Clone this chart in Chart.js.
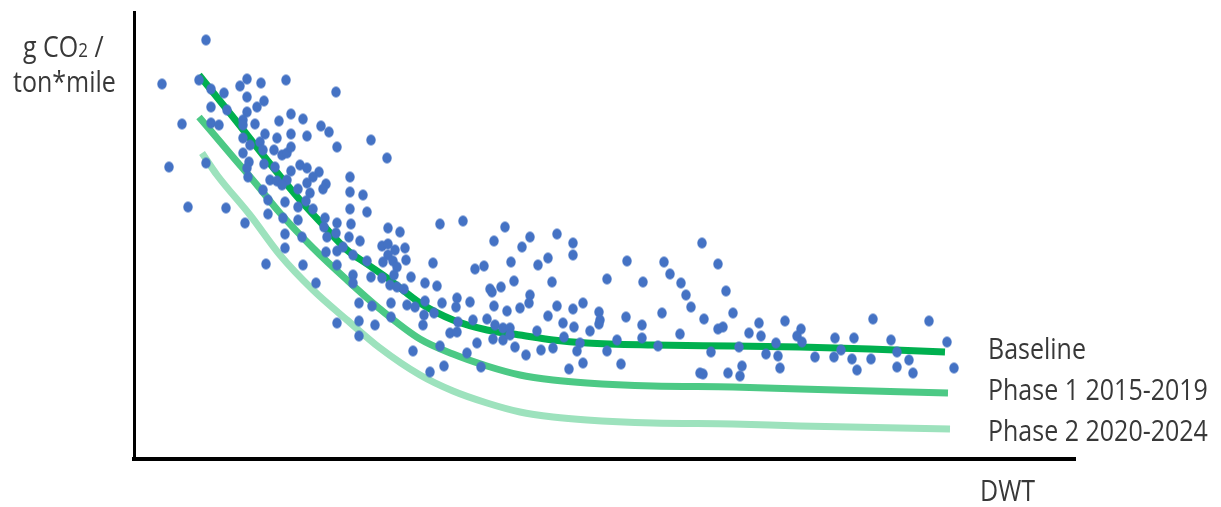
<!DOCTYPE html>
<html>
<head>
<meta charset="utf-8">
<title>g CO2 / ton*mile vs DWT</title>
<script src="https://cdn.jsdelivr.net/npm/chart.js@4.4.1/dist/chart.umd.min.js"></script>
<style>
    html, body { margin: 0; padding: 0; background: #fff; }
    #wrap { width: 1221px; height: 507px; position: relative; }
</style>
</head>
<body>
<div id="wrap"><canvas id="co2-chart"></canvas></div>
<script>
// Ship samples: [DWT, g CO2 per ton*mile] - the original has no tick values,
// so the units here are only relative
const ships = [
    [7.2,41.9],[2.8,37.5],[6.5,37.9],[7.7,37.0],[9.0,36.6],[10.6,37.3],[11.3,38.0],[12.7,37.6],[15.2,37.9],[20.2,36.7],
    [11.3,36.2],[7.7,35.2],[9.3,34.9],[12.3,35.2],[13.0,35.8],[11.3,34.7],[10.9,33.9],[10.9,33.4],[12.1,33.5],[4.8,33.5],
    [7.7,33.6],[8.5,33.4],[15.7,34.5],[16.9,34.0],[14.5,33.8],[18.7,33.3],[19.5,32.7],[17.3,32.3],[15.7,32.5],[14.3,32.1],
    [13.1,32.5],[10.9,32.1],[11.6,31.4],[12.6,31.7],[12.9,30.9],[14.0,30.9],[14.8,30.4],[15.3,30.6],[15.7,31.2],[10.9,30.6],
    [20.3,31.2],[11.5,29.7],[13.0,29.5],[14.1,29.2],[11.3,29.1],[11.4,28.2],[15.7,28.8],[16.6,29.4],[17.3,29.1],[18.5,28.7],
    [17.9,28.2],[3.5,29.2],[7.2,29.6],[13.6,27.9],[14.3,27.8],[15.3,27.9],[17.3,27.6],[19.2,27.5],
    [12.9,26.9],[14.8,27.4],[16.4,27.0],[17.6,26.6],[18.9,27.0],[5.4,25.2],[9.2,25.1],[13.4,25.9],[15.1,25.7],[16.4,25.2],
    [17.2,25.8],[17.9,25.0],[13.4,24.5],[11.1,23.6],[14.9,24.1],[16.4,23.9],[19.1,24.1],[19.0,23.2],[19.3,22.2],[20.3,23.6],
    [15.1,22.5],[16.8,22.2],[15.1,21.1],[19.2,20.7],[20.3,20.8],[20.3,19.4],[13.2,19.5],[16.9,19.4],[18.2,17.6],[20.3,13.6],
    [23.7,31.9],[25.3,30.1],[21.6,28.2],[21.6,26.7],[22.9,26.4],[21.6,25.0],[23.3,24.7],[21.7,23.5],[20.2,22.6],[21.5,22.2],
    [22.6,21.8],[25.4,23.1],[26.6,22.7],[30.6,23.5],[32.9,23.8],[37.1,23.2],[36.0,21.8],[38.8,21.2],[39.6,22.2],[20.9,21.2],
    [21.9,20.4],[24.8,21.3],[25.4,21.5],[26.1,20.9],[27.1,21.1],[25.4,20.4],[24.9,19.7],[25.9,19.8],[27.2,19.9],[23.3,19.8],
    [26.3,19.2],[29.9,19.6],[34.1,19.0],[35.0,19.3],[37.7,19.7],[21.9,18.4],[21.9,17.6],[23.7,18.2],[24.8,18.1],[26.0,18.4],
    [27.7,18.2],[25.6,17.4],[26.3,17.2],[27.0,17.0],[29.1,17.6],[30.3,17.3],[35.6,17.0],[36.7,17.2],[38.0,17.8],[39.6,16.4],
    [22.5,15.6],[23.8,15.3],[25.7,15.6],[27.3,15.4],[28.1,15.2],[29.1,15.8],[30.8,15.6],[32.3,16.1],[33.6,15.7],[36.0,15.3],[38.6,15.1],
    [32.2,15.2],[37.3,14.8],[39.5,15.6],[35.8,16.7],[22.5,13.8],[24.1,13.4],[25.7,14.2],[29.0,14.4],[28.9,13.4],[30.0,14.6],
    [32.4,13.7],[33.9,13.9],[35.3,14.0],[36.1,13.4],[36.9,13.1],[37.6,13.1],[31.6,12.6],[32.3,12.7],[22.5,12.3],[36.9,11.9],
    [37.6,12.4],[35.9,12.0],[34.3,11.6],[30.6,11.3],[38.1,11.2],[39.2,10.4],[27.9,10.8],[33.3,10.6],[29.6,8.7],[31.0,9.3],[34.7,9.2],
    [42.3,22.5],[43.9,21.6],[43.9,20.4],[41.4,20.1],[40.4,19.4],[41.8,17.7],[42.3,15.3],[43.9,15.0],[44.9,15.6],[41.4,14.3],
    [42.9,13.6],[44.0,13.2],[46.5,14.7],[46.6,13.9],[46.5,13.5],[45.6,12.8],[40.3,12.8],[43.0,12.2],[44.6,11.6],[44.3,10.8],
    [40.7,10.9],[41.9,11.1],[44.9,9.6],[43.5,9.0],[47.3,18.0],[49.3,19.8],[50.9,17.7],[53.0,19.7],[53.6,18.5],[54.7,17.6],
    [55.2,16.4],[55.7,15.2],[56.8,21.6],[58.4,19.5],[57.0,14.0],[58.4,13.0],[49.2,14.2],[52.8,14.6],[50.8,13.4],[50.8,12.1],
    [48.3,11.9],[47.3,10.8],[48.7,9.5],[52.4,11.3],[54.6,12.5],[57.7,10.7],[56.6,8.6],[56.9,8.5],
    [59.2,16.8],[59.9,14.6],[58.9,13.2],[60.5,11.2],[61.5,12.6],[62.5,13.6],[62.7,12.3],[65.1,13.8],[64.2,11.6],[63.2,10.5],
    [64.4,10.3],[64.6,9.1],[60.8,9.3],[59.4,8.6],[60.6,8.3],[66.7,13.0],[66.3,12.3],[66.8,11.7],[68.1,10.2],[70.1,12.1],
    [70.7,10.9],[70.0,10.2],[72.0,12.1],[71.8,10.0],[72.3,8.9],[73.9,14.0],[73.7,10.0],[75.7,11.9],[76.3,10.7],[76.3,9.2],
    [77.5,9.9],[77.9,8.6],[79.5,13.8],[81.3,11.7],[82.0,9.1]
];

// reference curves [DWT, g CO2/ton*mile]
const baseline = [
    [6.5,38.4],[9.9,34.2],[13.3,29.9],[16.6,25.9],[18.9,23.4],[21.3,20.9],[23.3,19.5],[25.6,17.9],[28.6,15.6],
    [31.9,13.9],[35.3,12.9],[38.6,12.4],[41.9,11.9],[45.3,11.6],[51.9,11.4],[59.9,11.3],[66.6,11.2],[73.6,11.0],[81.1,10.7]
];
const phase1 = [
    [6.5,34.2],[9.9,30.2],[12.3,27.4],[14.6,24.6],[17.9,21.1],[21.3,17.9],[24.6,15.0],[28.6,12.0],[31.9,10.5],
    [35.3,9.3],[38.6,8.4],[41.9,7.9],[45.3,7.6],[51.9,7.3],[59.9,7.2],[66.6,7.0],[81.4,6.6]
];
const phase2 = [
    [6.8,30.6],[8.3,28.4],[11.6,24.4],[14.6,20.4],[17.9,16.9],[21.3,13.9],[24.6,11.1],[28.6,8.4],[31.9,6.8],
    [35.3,5.6],[38.6,4.7],[41.9,4.2],[45.3,3.9],[51.9,3.6],[59.9,3.5],[66.6,3.3],[81.6,3.0]
];

const seriesNames = ['Baseline', 'Phase 1 2015-2019', 'Phase 2 2020-2024'];
const seriesColors = ['#00b04f', '#4cc985', '#9de2bd'];
const xTitle = 'DWT';
const yTitle = ['g CO', '2', ' /', 'ton*mile'];

const toXY = (arr) => arr.map(p => ({ x: p[0], y: p[1] }));

// the source picture is a bit stretched vertically, so the dots are ovals
const dot = document.createElement('canvas');
dot.width = 12;
dot.height = 13;
const dctx = dot.getContext('2d');
dctx.fillStyle = '#4472c4';
dctx.beginPath();
dctx.ellipse(6, 6.5, 4.7, 5.4, 0, 0, Math.PI * 2);
dctx.fill();

const TEXT_COLOR = '#383838';
const V_STRETCH = 1.15;

// axis titles + line labels, drawn as canvas text
const sideText = {
    id: 'sideText',
    afterDraw(chart) {
        const ctx = chart.ctx;
        const put = (txt, x, y, size) => {
            ctx.save();
            ctx.translate(x, y);
            ctx.scale(1, V_STRETCH);
            ctx.font = size + 'px "Open Sans"';
            ctx.fillStyle = TEXT_COLOR;
            ctx.textBaseline = 'alphabetic';
            ctx.fillText(txt, 0, 0);
            const w = ctx.measureText(txt).width;
            ctx.restore();
            return w;
        };
        let x = 23;
        x += put(yTitle[0], x, 57, 25);
        x += put(yTitle[1], x, 57, 17);
        put(yTitle[2], x, 57, 25);
        put(yTitle[3], 13, 92, 25);

        put(seriesNames[0], 988, 359, 25);
        put(seriesNames[1], 988, 400, 25);
        put(seriesNames[2], 988, 441, 25);

        put(xTitle, 980, 501, 25);
    }
};

function curve(label, data, color) {
    return {
        label: label,
        data: toXY(data),
        showLine: true,
        borderColor: color,
        backgroundColor: color,
        borderWidth: 7,
        borderCapStyle: 'butt',
        pointRadius: 0,
        cubicInterpolationMode: 'monotone',
        fill: false
    };
}

new Chart(document.getElementById('co2-chart'), {
    type: 'scatter',
    data: {
        datasets: [{
            label: 'Ships',
            data: toXY(ships),
            pointStyle: dot,
            pointRadius: 5,
            backgroundColor: '#4472c4',
            borderWidth: 0
        },
        curve(seriesNames[0], baseline, seriesColors[0]),
        curve(seriesNames[1], phase1, seriesColors[1]),
        curve(seriesNames[2], phase2, seriesColors[2])]
    },
    options: {
        responsive: true,
        maintainAspectRatio: false,
        animation: false,
        layout: {
            padding: { left: 134, top: 12, right: 146, bottom: 48 }
        },
        plugins: {
            legend: { display: false },
            tooltip: { enabled: false }
        },
        scales: {
            x: {
                type: 'linear',
                min: 0,
                max: 94.1,
                ticks: { display: false },
                grid: { display: false, drawTicks: false },
                border: { display: true, color: '#000', width: 4 }
            },
            y: {
                type: 'linear',
                min: 0,
                max: 44.7,
                ticks: { display: false },
                grid: { display: false, drawTicks: false },
                border: { display: true, color: '#000', width: 3 }
            }
        }
    },
    plugins: [sideText]
});
</script>
</body>
</html>
